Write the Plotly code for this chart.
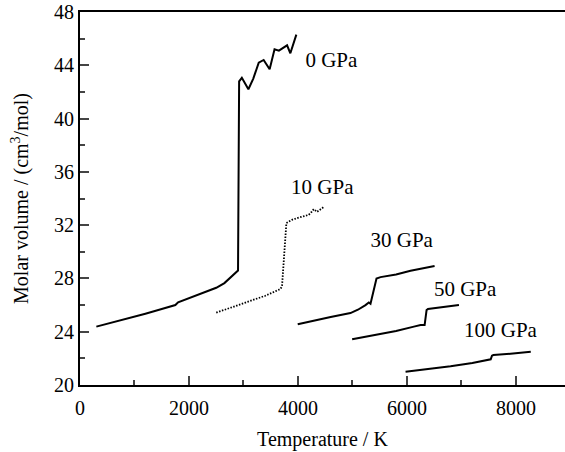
import plotly.graph_objects as go

# 0 GPa
t0 = [300, 600, 900, 1200, 1500, 1750, 1800, 2000, 2300, 2500, 2650, 2800, 2900,
      2920, 2970, 3090, 3180, 3280, 3370, 3480, 3570, 3650, 3800, 3860, 3970]
v0 = [24.38, 24.7, 25.0, 25.35, 25.7, 26.0, 26.2, 26.5, 26.95, 27.3, 27.65, 28.2, 28.6,
      42.8, 43.06, 42.2, 43.0, 44.2, 44.4, 43.7, 45.2, 45.1, 45.5, 44.9, 46.3]
# 10 GPa
t10 = [2500, 2800, 3100, 3400, 3676, 3707, 3787, 3890, 4000, 4197, 4250, 4290, 4350, 4485]
v10 = [25.43, 25.85, 26.3, 26.7, 27.2, 27.4, 32.15, 32.4, 32.55, 32.77, 33.0, 33.2, 33.0, 33.4]
# 30 GPa
t30 = [3995, 4300, 4600, 4963, 5100, 5239, 5300, 5331, 5380, 5441, 5515, 5800, 6066, 6300, 6507]
v30 = [24.56, 24.85, 25.1, 25.4, 25.65, 26.0, 26.2, 26.1, 26.9, 28.0, 28.1, 28.3, 28.57, 28.75, 28.94]
# 50 GPa
t50 = [4994, 5400, 5800, 6127, 6250, 6324, 6360, 6385, 6600, 6800, 6954]
v50 = [23.43, 23.75, 24.05, 24.38, 24.5, 24.5, 25.63, 25.7, 25.8, 25.9, 26.0]
# 100 GPa
t100 = [5974, 6400, 6800, 7200, 7537, 7560, 7586, 7900, 8272]
v100 = [21.0, 21.2, 21.4, 21.65, 21.93, 22.2, 22.25, 22.35, 22.5]

label_text = ["0 GPa", "10 GPa", "30 GPa", "50 GPa", "100 GPa"]
label_t = [4136, 3873, 5331, 6495, 7046]
label_v = [44.25, 34.75, 30.75, 27.1, 24.03]

x_ticks = [0, 2000, 4000, 6000, 8000]
y_ticks = [20, 24, 28, 32, 36, 40, 44, 48]

font = "Liberation Serif, Times New Roman, serif"

fig = go.Figure()
solid = dict(color="black", width=2)
fig.add_trace(go.Scatter(x=t0, y=v0, mode="lines", line=solid))
fig.add_trace(go.Scatter(x=t10, y=v10, mode="lines",
                         line=dict(color="black", width=1.8, dash="1.5px,1.5px")))
fig.add_trace(go.Scatter(x=t30, y=v30, mode="lines", line=solid))
fig.add_trace(go.Scatter(x=t50, y=v50, mode="lines", line=solid))
fig.add_trace(go.Scatter(x=t100, y=v100, mode="lines", line=solid))
fig.add_trace(go.Scatter(x=label_t, y=label_v, mode="text", text=label_text,
                         textposition="middle right",
                         textfont=dict(family=font, size=21, color="black")))

fig.update_layout(
    width=565, height=452,
    margin=dict(l=80, r=0, t=12, b=67),
    paper_bgcolor="white", plot_bgcolor="white",
    showlegend=False,
    font=dict(family=font, size=20, color="black"),
    xaxis=dict(range=[0, 8900], tickvals=x_ticks, ticks="inside", ticklen=9, tickwidth=2,
               showline=True, linewidth=2, linecolor="black", mirror=True,
               showgrid=False, zeroline=False, automargin=False, ticklabelstandoff=4,
               minor=dict(dtick=1000, ticks="inside", ticklen=5, tickwidth=2, showgrid=False),
               title=dict(text="Temperature / K", font=dict(size=20), standoff=14),
               tickfont=dict(size=20)),
    yaxis=dict(range=[20, 48], tickvals=y_ticks, ticks="inside", ticklen=9, tickwidth=2,
               showline=True, linewidth=2, linecolor="black",
               showgrid=False, zeroline=False, automargin=False,
               minor=dict(dtick=2, ticks="inside", ticklen=5, tickwidth=2, showgrid=False),
               title=dict(text="Molar volume / (cm<sup>3</sup>/mol)", font=dict(size=20), standoff=20),
               tickfont=dict(size=20)),
)

fig.write_html("out.html", config={"displayModeBar": False},
               post_script="document.body.style.margin='0px';document.body.style.overflow='hidden';")
